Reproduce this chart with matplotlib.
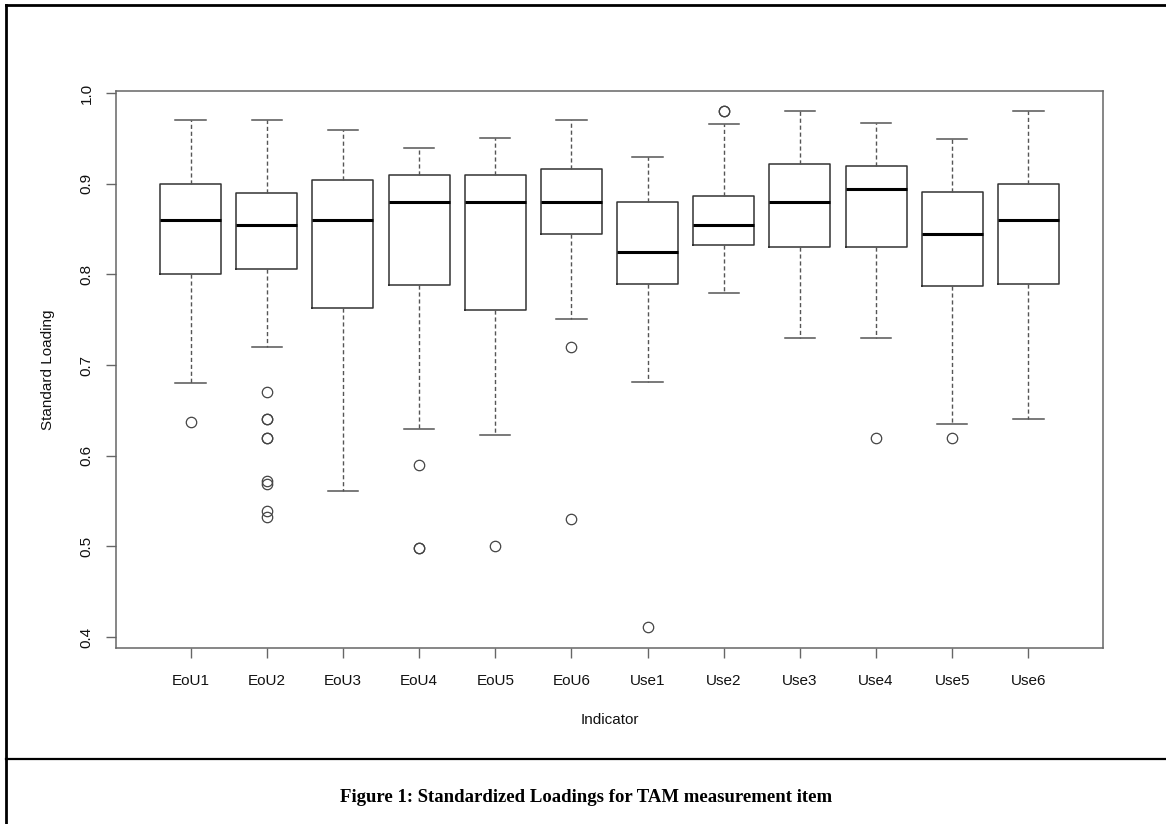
import matplotlib
matplotlib.use("Agg")
import matplotlib.pyplot as plt
from matplotlib.lines import Line2D

# indicator names and box statistics
labels = ['EoU1', 'EoU2', 'EoU3', 'EoU4', 'EoU5', 'EoU6',
          'Use1', 'Use2', 'Use3', 'Use4', 'Use5', 'Use6']
whislo = [0.680, 0.720, 0.561, 0.630, 0.623, 0.751, 0.681, 0.780, 0.730, 0.730, 0.635, 0.640]
q1 = [0.800, 0.806, 0.763, 0.788, 0.761, 0.845, 0.790, 0.832, 0.830, 0.830, 0.787, 0.790]
med = [0.860, 0.855, 0.860, 0.880, 0.880, 0.880, 0.825, 0.855, 0.880, 0.894, 0.845, 0.860]
q3 = [0.900, 0.890, 0.904, 0.910, 0.910, 0.916, 0.880, 0.887, 0.922, 0.920, 0.891, 0.900]
whishi = [0.970, 0.970, 0.960, 0.940, 0.951, 0.970, 0.930, 0.966, 0.980, 0.967, 0.950, 0.980]
fliers = [
    [0.637],
    [0.670, 0.640, 0.640, 0.620, 0.620, 0.572, 0.569, 0.539, 0.532],
    [],
    [0.590, 0.498, 0.498],
    [0.500],
    [0.720, 0.530],
    [0.411],
    [0.980, 0.980],
    [],
    [0.620],
    [0.620],
    [],
]

stats = []
for i in range(len(labels)):
    stats.append(dict(label=labels[i], whislo=whislo[i], q1=q1[i], med=med[i],
                      q3=q3[i], whishi=whishi[i], fliers=fliers[i]))

plt.rcParams['font.family'] = ['Liberation Sans', 'DejaVu Sans']

W, H = 1166, 824
fig = plt.figure(figsize=(W / 100, H / 100), dpi=100)

# axes box in pixels: left 116, right 1103, top 91, bottom 648
ax = fig.add_axes([116 / W, (H - 648) / H, 987 / W, 557 / H])

ax.bxp(stats, positions=range(1, 13), widths=0.8, patch_artist=False,
       boxprops=dict(color='#333333', linewidth=1.1),
       whiskerprops=dict(color='#555555', linewidth=1.0, linestyle=(0, (3, 2))),
       capprops=dict(color='#555555', linewidth=1.1),
       medianprops=dict(color='black', linewidth=2.2, solid_capstyle='butt'),
       flierprops=dict(marker='o', markerfacecolor='none', markeredgecolor='#444444',
                       markersize=7.5, markeredgewidth=0.9, linestyle='none'),
       capwidths=0.4)

ax.set_xlim(0.02, 12.98)
ax.set_ylim(0.3878, 1.0025)
ax.set_xticks(range(1, 13))
ax.set_xticklabels(labels)
ax.set_yticks([0.4, 0.5, 0.6, 0.7, 0.8, 0.9, 1.0])
ax.set_yticklabels(['0.4', '0.5', '0.6', '0.7', '0.8', '0.9', '1.0'],
                   rotation=90, va='center')

for s in ax.spines.values():
    s.set_color('#666666')
    s.set_linewidth(1.1)
ax.tick_params(axis='both', direction='out', length=7, width=1.0, color='#666666',
               labelsize=11, labelcolor='#111111')
ax.tick_params(axis='x', pad=12)
ax.tick_params(axis='y', pad=9)

ax.set_xlabel('Indicator', fontsize=11, color='#111111', labelpad=18)
ax.set_ylabel('Standard Loading', fontsize=11, color='#111111', labelpad=18)

# surrounding page frame and caption
fig.add_artist(Line2D([6 / W, 6 / W], [0, 1 - 5 / H], transform=fig.transFigure,
                      color='black', linewidth=2.0))
fig.add_artist(Line2D([6 / W, 1], [1 - 5 / H, 1 - 5 / H], transform=fig.transFigure,
                      color='black', linewidth=2.0))
fig.add_artist(Line2D([6 / W, 1], [1 - 759 / H, 1 - 759 / H], transform=fig.transFigure,
                      color='black', linewidth=1.6))

fig.text(586 / W, 1 - 797 / H, 'Figure 1: Standardized Loadings for TAM measurement item',
         ha='center', va='center', fontsize=13.5, fontweight='bold',
         family=['Liberation Serif', 'DejaVu Serif'])

fig.savefig('out.png', dpi=100)
